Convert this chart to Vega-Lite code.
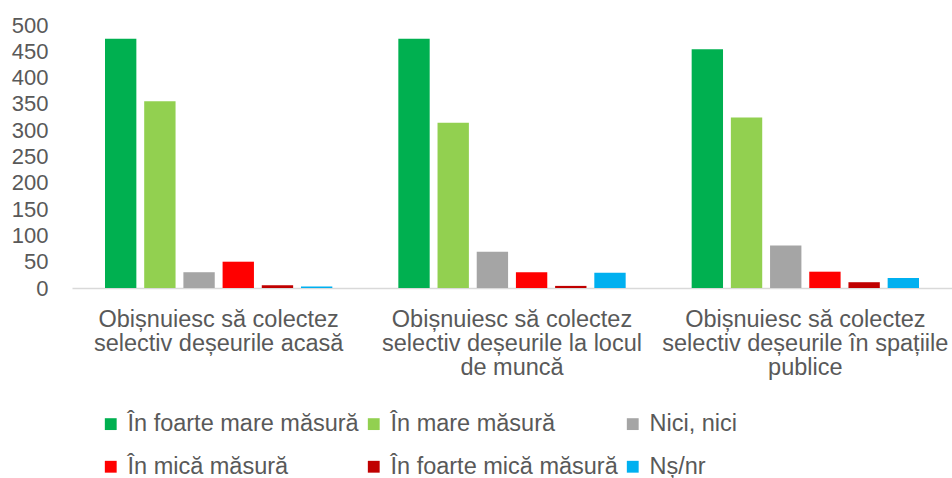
{
  "$schema": "https://vega.github.io/schema/vega-lite/v6.json",
  "width": 880,
  "height": 263,
  "autosize": {"type": "none"},
  "padding": {"left": 72, "top": 25, "right": 0, "bottom": 190},
  "background": "white",
  "config": {
    "view": {"stroke": null},
    "font": "Liberation Sans",
    "text": {"font": "Liberation Sans"}
  },
  "data": {
    "values": [
      {"cat": "Obișnuiesc să colectez selectiv deșeurile acasă", "ans": "În foarte mare măsură", "v": 474},
      {"cat": "Obișnuiesc să colectez selectiv deșeurile acasă", "ans": "În mare măsură", "v": 355},
      {"cat": "Obișnuiesc să colectez selectiv deșeurile acasă", "ans": "Nici, nici", "v": 30},
      {"cat": "Obișnuiesc să colectez selectiv deșeurile acasă", "ans": "În mică măsură", "v": 50},
      {"cat": "Obișnuiesc să colectez selectiv deșeurile acasă", "ans": "În foarte mică măsură", "v": 5},
      {"cat": "Obișnuiesc să colectez selectiv deșeurile acasă", "ans": "Nș/nr", "v": 3},
      {"cat": "Obișnuiesc să colectez selectiv deșeurile la locul de muncă", "ans": "În foarte mare măsură", "v": 474},
      {"cat": "Obișnuiesc să colectez selectiv deșeurile la locul de muncă", "ans": "În mare măsură", "v": 314},
      {"cat": "Obișnuiesc să colectez selectiv deșeurile la locul de muncă", "ans": "Nici, nici", "v": 69},
      {"cat": "Obișnuiesc să colectez selectiv deșeurile la locul de muncă", "ans": "În mică măsură", "v": 30},
      {"cat": "Obișnuiesc să colectez selectiv deșeurile la locul de muncă", "ans": "În foarte mică măsură", "v": 4},
      {"cat": "Obișnuiesc să colectez selectiv deșeurile la locul de muncă", "ans": "Nș/nr", "v": 29},
      {"cat": "Obișnuiesc să colectez selectiv deșeurile în spațiile publice", "ans": "În foarte mare măsură", "v": 454},
      {"cat": "Obișnuiesc să colectez selectiv deșeurile în spațiile publice", "ans": "În mare măsură", "v": 324},
      {"cat": "Obișnuiesc să colectez selectiv deșeurile în spațiile publice", "ans": "Nici, nici", "v": 81},
      {"cat": "Obișnuiesc să colectez selectiv deșeurile în spațiile publice", "ans": "În mică măsură", "v": 31},
      {"cat": "Obișnuiesc să colectez selectiv deșeurile în spațiile publice", "ans": "În foarte mică măsură", "v": 11},
      {"cat": "Obișnuiesc să colectez selectiv deșeurile în spațiile publice", "ans": "Nș/nr", "v": 19}
    ]
  },
  "mark": {"type": "bar"},
  "encoding": {
    "x": {
      "field": "cat",
      "type": "nominal",
      "sort": null,
      "scale": {"paddingInner": 0.225, "paddingOuter": 0.1125},
      "axis": {
        "title": null,
        "labelAngle": 0,
        "labelFontSize": 23.5,
        "labelColor": "#595959",
        "labelLineHeight": 24,
        "labelBaseline": "top",
        "labelPadding": 19,
        "labelLimit": 400,
        "ticks": false,
        "tickSize": 0,
        "domainColor": "#d9d9d9",
        "domainWidth": 1.5,
        "labelExpr": "split(replace(replace(replace(datum.label, 'colectez ', 'colectez|'), 'locul ', 'locul|'), 'spațiile ', 'spațiile|'), '|')"
      }
    },
    "xOffset": {
      "field": "ans",
      "type": "nominal",
      "sort": ["În foarte mare măsură", "În mare măsură", "Nici, nici", "În mică măsură", "În foarte mică măsură", "Nș/nr"],
      "scale": {"paddingInner": 0.2, "paddingOuter": 0}
    },
    "y": {
      "field": "v",
      "type": "quantitative",
      "scale": {"domain": [0, 500], "nice": false},
      "axis": {
        "title": null,
        "values": [0, 50, 100, 150, 200, 250, 300, 350, 400, 450, 500],
        "grid": false,
        "domain": false,
        "ticks": false,
        "tickSize": 0,
        "labelPadding": 24,
        "labelFontSize": 22,
        "labelColor": "#595959"
      }
    },
    "color": {
      "field": "ans",
      "type": "nominal",
      "sort": ["În foarte mare măsură", "În mare măsură", "Nici, nici", "În mică măsură", "În foarte mică măsură", "Nș/nr"],
      "scale": {
        "domain": ["În foarte mare măsură", "În mare măsură", "Nici, nici", "În mică măsură", "În foarte mică măsură", "Nș/nr"],
        "range": ["#00B050", "#92D050", "#A5A5A5", "#FF0000", "#C00000", "#00B0F0"]
      },
      "legend": {
        "title": null,
        "orient": "none",
        "legendX": 27,
        "legendY": 387,
        "padding": 0,
        "direction": "horizontal",
        "columns": 3,
        "columnPadding": 3,
        "rowPadding": 18,
        "symbolType": "square",
        "symbolSize": 140,
        "symbolStrokeWidth": 0,
        "symbolOffset": 0,
        "labelOffset": 5,
        "labelFontSize": 23.5,
        "labelColor": "#595959",
        "labelLimit": 400
      }
    }
  }
}
